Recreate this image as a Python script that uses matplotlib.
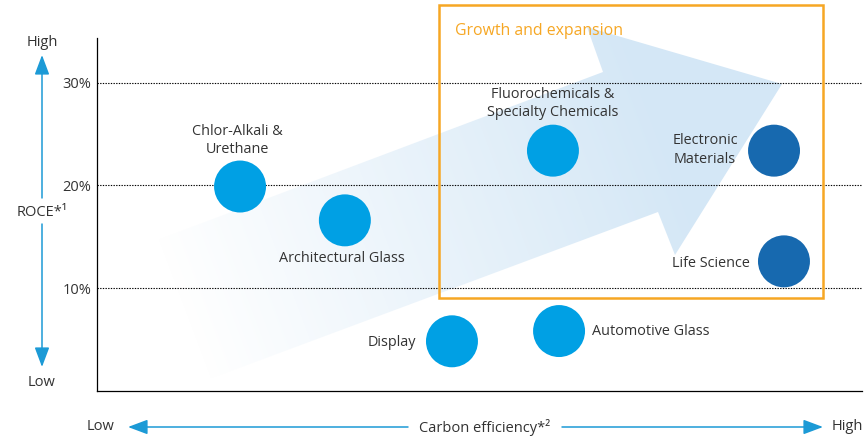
import numpy as np
import matplotlib
matplotlib.use("Agg")
import matplotlib.pyplot as plt
from matplotlib.patches import Polygon, Rectangle, FancyArrowPatch

plt.rcParams['font.family'] = ['Open Sans', 'DejaVu Sans']

# business segments: carbon efficiency (0-100 scale), ROCE (%)
segments = ["Chlor-Alkali &\nUrethane", "Architectural Glass", "Display",
            "Automotive Glass", "Fluorochemicals &\nSpecialty Chemicals",
            "Electronic\nMaterials", "Life Science"]
carbon_eff = [18.7, 32.4, 46.4, 60.4, 59.6, 88.5, 89.8]
roce = [19.9, 16.6, 4.8, 5.8, 23.4, 23.4, 12.6]
growth = [False, False, False, False, False, True, True]

# label offsets (x, y in data units) and alignment
label_dx = [-0.4, -0.4, -4.7, 4.3, 0.0, -9.0, -9.5]
label_dy = [4.5, -3.7, -0.1, 0.0, 4.6, 0.05, -0.25]
label_ha = ["center", "center", "right", "left", "center", "center", "center"]

yticks = [10, 20, 30]
ytick_labels = ["10%", "20%", "30%"]

light_blue = "#00A0E4"
dark_blue = "#1769AF"
arrow_blue = "#1C9AD6"
orange = "#F6A724"
txt = "#333333"
fs = 10.5

W, H = 865, 438
fig = plt.figure(figsize=(W / 100, H / 100), dpi=100)
ax = fig.add_axes([97 / W, 47.5 / H, 765 / W, 390.5 / H])

# pixel <-> data helpers (axes spans px 97..862, y px 390.5 -> 0 %)
def px2d(px, py):
    return (px - 97) / 7.65, (390.5 - py) / 10.25

xmax = 100
ytop = 390.5 / 10.25
ax.set_xlim(0, xmax)
ax.set_ylim(0, ytop)

# big gradient arrow in the background
arrow_px = [(157, 240), (603, 72), (587, 27), (782, 84), (675, 255),
            (658, 212), (207, 380)]
verts = [px2d(*p) for p in arrow_px]
poly = Polygon(verts, closed=True, transform=ax.transData)
nx, ny = 500, 400
gx, gy = np.meshgrid(np.linspace(0, xmax, nx), np.linspace(0, ytop, ny))
ppx = 97 + 7.65 * gx
ppy = 390.5 - 10.25 * gy
tail = np.array([182.0, 310.0])
tip = np.array([782.0, 84.0])
d = tip - tail
L = np.hypot(*d)
t = ((ppx - tail[0]) * d[0] + (ppy - tail[1]) * d[1]) / L**2
alpha = np.clip(t / 0.8, 0, 1)
img = np.zeros((ny, nx, 4))
img[..., 0] = 0.835
img[..., 1] = 0.906
img[..., 2] = 0.965
img[..., 3] = alpha
im = ax.imshow(img, extent=(0, xmax, 0, ytop), origin="lower",
               aspect="auto", interpolation="bilinear", zorder=0)
im.set_clip_path(poly)

# dotted grid
for yv in yticks:
    ax.axhline(yv, color="black", lw=0.8, ls=(0, (1.2, 1.2)), zorder=1)

# growth box
x0, y0 = px2d(439, 298)
x1, y1 = px2d(823, 5)
ax.add_patch(Rectangle((x0, y0), x1 - x0, y1 - y0, fill=False,
                       ec=orange, lw=1.8, zorder=2))
gx0, gy0 = px2d(455, 31)
ax.text(gx0, gy0, "Growth and expansion", color=orange, fontsize=11.4,
        ha="left", va="center", zorder=3)

# bubbles
colors = [dark_blue if g else light_blue for g in growth]
ax.scatter(carbon_eff, roce, s=1400, c=colors, linewidths=0, zorder=4)

for name, xv, yv, dx, dy, ha in zip(segments, carbon_eff, roce,
                                    label_dx, label_dy, label_ha):
    ax.text(xv + dx, yv + dy, name, ha=ha, va="center", fontsize=10.4,
            color=txt, linespacing=1.3, zorder=5)

# axes styling
ax.spines["top"].set_visible(False)
ax.spines["right"].set_visible(False)
ax.spines["left"].set_bounds(0, 34.4)
ax.spines["left"].set_linewidth(0.9)
ax.spines["bottom"].set_linewidth(0.9)
ax.set_xticks([])
ax.set_yticks(yticks)
ax.set_yticklabels(ytick_labels)
ax.tick_params(axis="y", length=0, pad=4.0, labelsize=fs, labelcolor=txt)

# outer axis arrows (figure pixels, origin bottom-left)
def fp(px, py):
    return (px / W, (H - py) / H)

astyle = "-|>,head_length=1.2,head_width=0.45"
for a, b in [((42, 198), (42, 55)), ((42, 224), (42, 367)),
             ((408, 427), (128, 427)), ((562, 427), (823, 427))]:
    fig.add_artist(FancyArrowPatch(fp(*a), fp(*b), transform=fig.transFigure,
                                   arrowstyle=astyle, mutation_scale=10,
                                   color=arrow_blue, lw=1.1, shrinkA=0, shrinkB=0))

fig.text(*fp(42, 42), "High", ha="center", va="center", fontsize=fs, color=txt)
fig.text(*fp(42, 383), "Low", ha="center", va="center", fontsize=fs, color=txt)
fig.text(*fp(42, 212), "ROCE*¹", ha="center", va="center", fontsize=fs, color=txt)
fig.text(*fp(101, 426), "Low", ha="center", va="center", fontsize=fs, color=txt)
fig.text(*fp(847, 426), "High", ha="center", va="center", fontsize=fs, color=txt)
fig.text(*fp(485, 428), "Carbon efficiency*²", ha="center", va="center",
         fontsize=fs, color=txt)

fig.savefig("out.png", dpi=100)
